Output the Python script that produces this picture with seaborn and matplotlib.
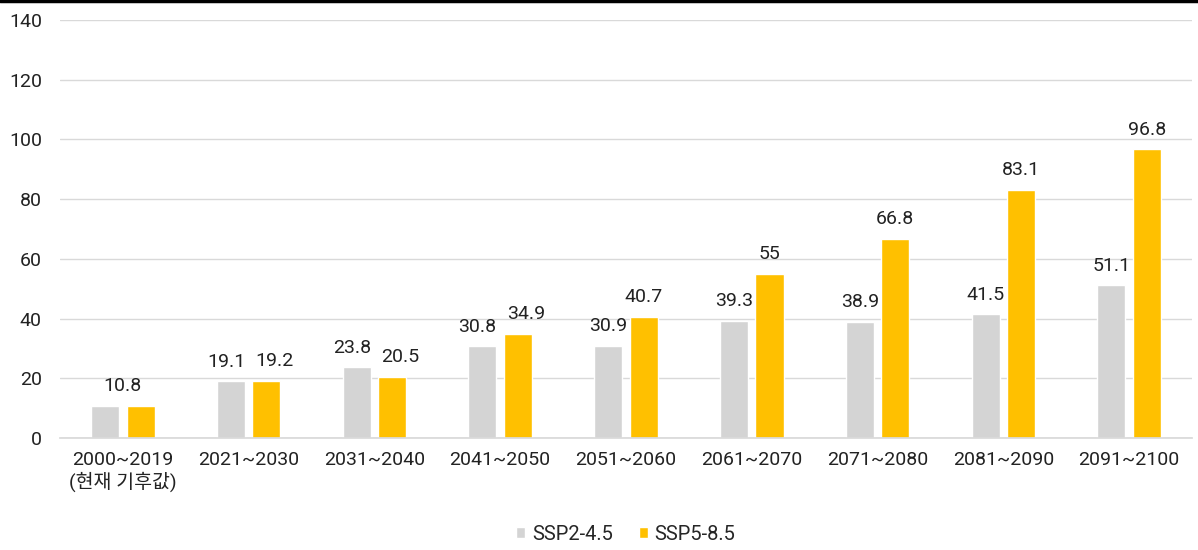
import matplotlib
matplotlib.use("Agg")
import matplotlib.pyplot as plt
import seaborn as sns
import pandas as pd

categories = ["2000~2019\n(현재 기후값)", "2021~2030", "2031~2040", "2041~2050", "2051~2060",
              "2061~2070", "2071~2080", "2081~2090", "2091~2100"]
ssp245 = [10.8, 19.1, 23.8, 30.8, 30.9, 39.3, 38.9, 41.5, 51.1]
ssp585 = [10.8, 19.2, 20.5, 34.9, 40.7, 55, 66.8, 83.1, 96.8]
series = ["SSP2-4.5", "SSP5-8.5"]
colors = ["#d4d4d4", "#ffc000"]

df = pd.DataFrame({
    "period": categories * 2,
    "value": ssp245 + ssp585,
    "scenario": [series[0]] * len(categories) + [series[1]] * len(categories),
})

sns.set_theme(style="white")
plt.rcParams['font.family'] = ['Roboto', 'Noto Sans CJK KR', 'DejaVu Sans']

fs = 14
fig = plt.figure(figsize=(11.98, 5.5), dpi=100)
ax = fig.add_axes([0.05, 0.2036, 0.945, 0.76])
sns.barplot(data=df, x="period", y="value", hue="scenario", palette=colors,
            width=0.565, gap=0.21, ax=ax, saturation=1, legend=True)

ax.set_ylim(0, 140)
ax.set_yticks(range(0, 141, 20))
ax.yaxis.grid(True, color="#d9d9d9", linewidth=1)
ax.set_axisbelow(True)
for s in ["top", "right", "left"]:
    ax.spines[s].set_visible(False)
ax.spines["bottom"].set_color("#d9d9d9")
ax.set_xlabel("")
ax.set_ylabel("")
ax.tick_params(axis="both", length=0, labelsize=fs, colors="#222222")
ax.tick_params(axis="x", pad=9)
ax.tick_params(axis="y", pad=13)
ax.set_xlim(-0.5, len(categories) - 0.5)

# labels
n = len(categories)
bars = [p for p in ax.patches if p.get_height() > 0][:2 * n]
for i in range(n):
    b1, b2 = bars[i], bars[n + i]
    if i == 0:
        x = (b1.get_x() + b2.get_x() + b2.get_width()) / 2
        ax.annotate(f"{ssp585[i]:g}", (x, max(ssp245[i], ssp585[i]) + 3.5), ha="center",
                    va="bottom", fontsize=fs, color="#222222")
        continue
    close = abs(ssp245[i] - ssp585[i]) < 6
    dx1, dx2 = (-3.5, 6) if close else (0, 0)
    for b, v, dx in ((b1, ssp245[i], dx1), (b2, ssp585[i], dx2)):
        ax.annotate(f"{v:g}", (b.get_x() + b.get_width() / 2, v + 3.5),
                    xytext=(dx, 0), textcoords="offset points",
                    ha="center", va="bottom", fontsize=fs, color="#222222")

handles, labels = ax.get_legend_handles_labels()
ax.legend(handles, labels, loc="center", bbox_to_anchor=(0.5, -0.23), ncol=2,
          frameon=False, fontsize=14.5, handlelength=0.42, handleheight=0.42,
          handletextpad=0.35, columnspacing=1.3)

fig.add_artist(plt.Line2D([0, 1], [0.999, 0.999], color="black", linewidth=2.5,
                          transform=fig.transFigure))
fig.savefig("out.png", dpi=100, facecolor="white")
